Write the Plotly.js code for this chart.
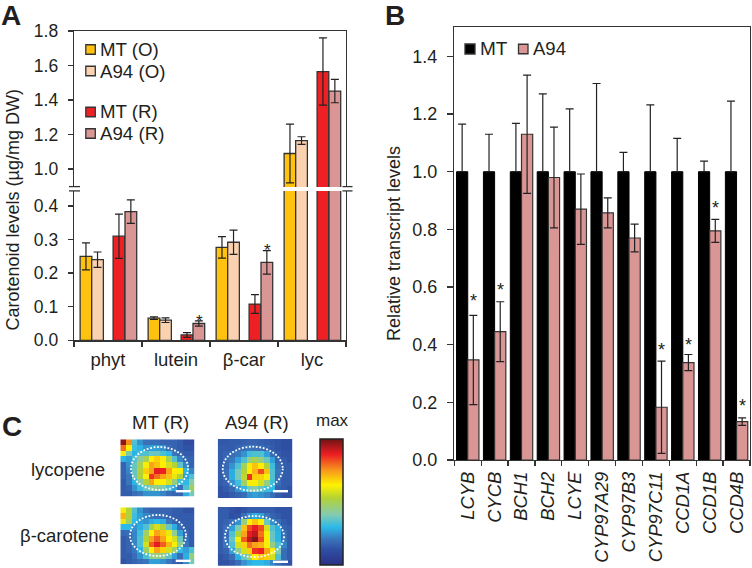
<!DOCTYPE html>
<html>
<head>
<meta charset="utf-8">
<script src="https://cdn.plot.ly/plotly-3.0.1.min.js"></script>
<style>html,body{margin:0;padding:0;background:#fff}</style>
</head>
<body>
<div id="chart" style="width:752px;height:568px"></div>
<script>
// Panel A data
const compounds = ['phyt', 'lutein', 'β-car', 'lyc'];
const mtO = [0.25, 0.066, 0.277, 1.09];
const mtOErr = [0.04, 0.004, 0.032, 0.17];
const a94O = [0.24, 0.06, 0.292, 1.165];
const a94OErr = [0.023, 0.007, 0.036, 0.022];
const mtR = [0.31, 0.016, 0.108, 1.565];
const mtRErr = [0.066, 0.007, 0.028, 0.195];
const a94R = [0.383, 0.05, 0.232, 1.452];
const a94RErr = [0.035, 0.008, 0.035, 0.068];
const starsA = [['lutein', 0.0575], ['β-car', 0.266]];

// Panel B data
const genes = ['LCYB', 'CYCB', 'BCH1', 'BCH2', 'LCYE', 'CYP97A29', 'CYP97B3', 'CYP97C11', 'CCD1A', 'CCD1B', 'CCD4B'];
const mtRel = [1, 1, 1, 1, 1, 1, 1, 1, 1, 1, 1];
const mtRelErr = [0.165, 0.13, 0.168, 0.27, 0.218, 0.306, 0.067, 0.232, 0.116, 0.037, 0.245];
const a94Rel = [0.347, 0.445, 1.13, 0.98, 0.87, 0.857, 0.77, 0.183, 0.338, 0.795, 0.133];
const a94RelErr = [0.155, 0.104, 0.205, 0.175, 0.122, 0.052, 0.048, 0.16, 0.028, 0.04, 0.013];
const starGenes = ['LCYB', 'CYCB', 'CYP97C11', 'CCD1A', 'CCD1B', 'CCD4B'];
const starLevels = [0.563, 0.6, 0.392, 0.409, 0.885, 0.198];

// Panel C data
const mtLycopene = [
 [.97,.75,.3,.2,.15,.14,.14,.12,.12,.12,.1,.06,.06],
 [.78,.62,.28,.25,.2,.22,.22,.2,.14,.12,.1,.08,.08],
 [.6,.35,.25,.3,.3,.33,.33,.3,.26,.16,.12,.1,.1],
 [.25,.22,.3,.4,.47,.62,.66,.6,.47,.3,.18,.12,.12],
 [.12,.2,.33,.47,.6,.72,.68,.62,.55,.5,.32,.18,.12],
 [.12,.18,.33,.5,.66,.72,.88,.87,.72,.62,.6,.25,.18],
 [.12,.16,.33,.5,.62,.85,.78,.72,.68,.58,.5,.22,.3],
 [.1,.16,.25,.38,.5,.72,.62,.62,.55,.42,.28,.26,.38],
 [.1,.12,.2,.28,.33,.38,.4,.36,.3,.22,.14,.3,.45],
 [.1,.1,.14,.16,.2,.2,.2,.18,.14,.12,.12,.24,.35]];
const a94Lycopene = [
 [.09,.09,.1,.1,.11,.12,.12,.11,.1,.09,.08,.07,.07],
 [.1,.1,.1,.12,.14,.16,.15,.14,.12,.1,.08,.07,.07],
 [.1,.12,.14,.16,.2,.28,.3,.3,.22,.14,.1,.08,.08],
 [.1,.13,.16,.22,.3,.42,.47,.42,.33,.22,.12,.1,.08],
 [.1,.13,.2,.3,.46,.6,.68,.62,.5,.28,.14,.1,.1],
 [.1,.14,.24,.35,.5,.62,.7,.82,.68,.3,.16,.1,.1],
 [.1,.14,.24,.35,.52,.85,.66,.66,.6,.3,.15,.1,.1],
 [.1,.12,.2,.28,.45,.6,.6,.55,.42,.28,.14,.1,.1],
 [.08,.1,.13,.2,.26,.35,.38,.33,.28,.26,.12,.1,.08],
 [.08,.08,.1,.12,.14,.2,.22,.2,.18,.14,.1,.08,.08]];
const mtCarotene = [
 [.6,.5,.3,.2,.14,.12,.12,.12,.12,.1,.1,.08,.08],
 [.7,.5,.28,.22,.18,.16,.14,.14,.12,.1,.1,.1,.1],
 [.58,.45,.26,.22,.2,.24,.26,.24,.16,.12,.1,.1,.1],
 [.26,.26,.2,.24,.3,.47,.55,.5,.33,.24,.14,.1,.1],
 [.13,.14,.18,.28,.45,.62,.72,.68,.58,.4,.22,.12,.1],
 [.1,.12,.18,.3,.5,.72,.8,.72,.62,.55,.33,.14,.1],
 [.1,.12,.18,.3,.55,.8,.88,.8,.7,.6,.4,.16,.1],
 [.1,.12,.16,.25,.45,.62,.72,.66,.55,.45,.26,.22,.3],
 [.1,.1,.14,.2,.3,.4,.42,.4,.32,.22,.14,.24,.42],
 [.08,.1,.12,.14,.16,.22,.22,.2,.16,.12,.1,.2,.35]];
const a94Carotene = [
 [.1,.1,.08,.06,.08,.1,.1,.1,.1,.1,.08,.08,.08],
 [.1,.1,.07,.08,.14,.2,.24,.22,.16,.12,.1,.08,.08],
 [.1,.12,.14,.2,.42,.62,.68,.62,.33,.2,.14,.1,.08],
 [.1,.14,.22,.36,.68,.82,.88,.82,.55,.3,.24,.12,.1],
 [.1,.14,.3,.5,.72,.88,.92,.78,.6,.33,.25,.14,.1],
 [.1,.16,.33,.6,.8,.92,.98,.82,.62,.33,.25,.15,.1],
 [.1,.16,.3,.55,.66,.78,.72,.7,.6,.42,.3,.18,.1],
 [.1,.12,.22,.4,.55,.66,.85,.87,.72,.62,.36,.14,.1],
 [.08,.1,.14,.24,.33,.45,.62,.68,.66,.55,.3,.14,.1],
 [.08,.08,.1,.14,.2,.24,.26,.26,.24,.18,.14,.1,.08]];

// Styling
const W = 752, H = 568;
const FONT = 'Liberation Sans, Arial, sans-serif';
const INK = '#231f20', LINE = '#333333', EDGE = '#333333';
const cOrange = '#FFC20E', cPeach = '#FBD2B0', cRed = '#EE2024', cPink = '#DA9694';
const hx = p => p / W, vy = p => 1 - p / H;
const domX = (a, b) => [a / W, b / W], domY = (top, bot) => [1 - bot / H, 1 - top / H];

// Panel A bars: one trace on each side of the axis break
const seriesA = [
  {name: 'MT (O)', y: mtO, e: mtOErr, c: cOrange, off: -0.41},
  {name: 'A94 (O)', y: a94O, e: a94OErr, c: cPeach, off: -0.24},
  {name: 'MT (R)', y: mtR, e: mtRErr, c: cRed, off: 0.075},
  {name: 'A94 (R)', y: a94R, e: a94RErr, c: cPink, off: 0.25}
];
const traces = [];
[['x', 'y'], ['x2', 'y2']].forEach(([xa, ya]) => seriesA.forEach(s => traces.push({
  type: 'bar', name: s.name, x: compounds, y: s.y, xaxis: xa, yaxis: ya, showlegend: false,
  offset: s.off, width: 0.172,
  marker: {color: s.c, line: {color: EDGE, width: 1.3}},
  error_y: {type: 'data', array: s.e, color: '#222', thickness: 1.2, width: 4}
})));

// Panel B bars
const geneLabels = genes.map(g => '<i>' + g + '</i>');
traces.push({type: 'bar', name: 'MT', x: geneLabels, y: mtRel, xaxis: 'x3', yaxis: 'y3', showlegend: false,
  offset: -0.4165, width: 0.4165,
  marker: {color: '#000', line: {color: '#000', width: 1}},
  error_y: {type: 'data', symmetric: false, array: mtRelErr, arrayminus: mtRel.map(() => 0), color: '#222', thickness: 1.2, width: 4}});
traces.push({type: 'bar', name: 'A94', x: geneLabels, y: a94Rel, xaxis: 'x3', yaxis: 'y3', showlegend: false,
  offset: 0, width: 0.4165,
  marker: {color: cPink, line: {color: EDGE, width: 1.2}},
  error_y: {type: 'data', array: a94RelErr, color: '#222', thickness: 1.2, width: 4}});

// Panel C maps
const maps = [
  {z: mtLycopene, box: [120.3, 194.7, 439.3, 496.7], ring: [131, 188, 447, 490], bar: [175.7, 190.7, 490, 492.4]},
  {z: a94Lycopene, box: [217.7, 292.3, 439, 498], ring: [222.7, 282.7, 446.7, 490.7], bar: [273, 288, 490, 492.4]},
  {z: mtCarotene, box: [120.3, 194.7, 507.3, 564.3], ring: [130, 186, 515, 556], bar: [175.7, 190.7, 559.6, 562]},
  {z: a94Carotene, box: [217.7, 292.3, 507, 565.7], ring: [225, 284, 516, 557], bar: [273, 288, 560.6, 563]}
];
const layout = {
  width: W, height: H, margin: {l: 0, r: 0, t: 0, b: 0}, paper_bgcolor: '#fff', plot_bgcolor: 'rgba(0,0,0,0)',
  font: {family: FONT, color: INK, size: 17.5}, barmode: 'overlay', showlegend: false,
  xaxis: {type: 'category', domain: domX(74, 346), anchor: 'y', range: [-0.5, 3.5], tickson: 'boundaries', dtick: 1,
    ticks: 'outside', ticklen: 5, tickwidth: 1.3, tickcolor: LINE, showline: true, linecolor: LINE, linewidth: 1.3,
    showgrid: false, zeroline: false, tickfont: {size: 18.5}, ticklabelstandoff: 2},
  yaxis: {domain: domY(191, 340.3), anchor: 'x', range: [0, 0.4447], tickvals: [0, 0.1, 0.2, 0.3, 0.4], tickformat: '.1f',
    ticks: 'outside', ticklen: 5, tickwidth: 1.3, tickcolor: LINE, showline: true, mirror: true, linecolor: LINE, linewidth: 1.3,
    showgrid: false, zeroline: false, tickfont: {size: 17.5}, ticklabelstandoff: 6},
  xaxis2: {type: 'category', domain: domX(74, 346), anchor: 'y2', side: 'top', range: [-0.5, 3.5], showticklabels: false, ticks: '',
    showline: true, linecolor: LINE, linewidth: 1.3, showgrid: false, zeroline: false},
  yaxis2: {domain: domY(31, 187), anchor: 'x2', range: [0.8957, 1.8], tickvals: [1, 1.2, 1.4, 1.6, 1.8], tickformat: '.1f',
    ticks: 'outside', ticklen: 5, tickwidth: 1.3, tickcolor: LINE, showline: true, mirror: true, linecolor: LINE, linewidth: 1.3,
    showgrid: false, zeroline: false, tickfont: {size: 17.5}, ticklabelstandoff: 6},
  xaxis3: {type: 'category', domain: domX(454.3, 750), anchor: 'y3', tickson: 'boundaries', dtick: 1, tickangle: -90,
    ticks: 'outside', ticklen: 5, tickwidth: 1.3, tickcolor: LINE, showline: true, mirror: true, linecolor: LINE, linewidth: 1.3,
    showgrid: false, zeroline: false, tickfont: {size: 18.4}, ticklabelstandoff: 3},
  yaxis3: {domain: domY(27, 460), anchor: 'x3', range: [0, 1.502], tickvals: [0, 0.2, 0.4, 0.6, 0.8, 1, 1.2, 1.4], tickformat: '.1f',
    ticks: 'outside', ticklen: 6, tickwidth: 1.3, tickcolor: LINE, showline: true, mirror: true, linecolor: LINE, linewidth: 1.3,
    showgrid: false, zeroline: false, tickfont: {size: 18}, ticklabelstandoff: 6,
    title: {text: 'Relative transcript levels', font: {size: 18}, standoff: 7}},
  coloraxis: {cmin: -0.06, cmax: 1, showscale: true,
    colorscale: [[0, '#2a3186'], [0.12, '#2f4ea3'], [0.2, '#3a72ba'], [0.3, '#2cb9e8'], [0.4, '#84cbb0'], [0.53, '#b3d235'],
      [0.635, '#fff200'], [0.755, '#f7941d'], [0.88, '#ed1c24'], [1, '#6e1414']],
    colorbar: {x: hx(320), xanchor: 'left', y: vy(439), yanchor: 'top', lenmode: 'pixels', len: 126, thicknessmode: 'pixels', thickness: 23,
      xpad: 0, ypad: 0, outlinecolor: '#222', outlinewidth: 1.5, borderwidth: 0, ticks: '', showticklabels: false}},
  shapes: [], annotations: []
};

maps.forEach((m, i) => {
  const n = i + 4, xk = 'x' + n, yk = 'y' + n;
  traces.push({type: 'heatmap', z: m.z, xaxis: xk, yaxis: yk, coloraxis: 'coloraxis', zsmooth: false, hoverongaps: false});
  layout['xaxis' + n] = {domain: domX(m.box[0], m.box[1]), anchor: yk, range: [-0.5, 12.5], visible: false, fixedrange: true};
  layout['yaxis' + n] = {domain: domY(m.box[2], m.box[3]), anchor: xk, range: [9.5, -0.5], visible: false, fixedrange: true};
  layout.shapes.push({type: 'circle', xref: 'paper', yref: 'paper', x0: hx(m.ring[0]), x1: hx(m.ring[1]), y0: vy(m.ring[2]), y1: vy(m.ring[3]),
    line: {color: '#fff', width: 1.8, dash: '1.8px,1.7px'}, layer: 'above'});
  layout.shapes.push({type: 'rect', xref: 'paper', yref: 'paper', x0: hx(m.bar[0]), x1: hx(m.bar[1]), y0: vy(m.bar[2]), y1: vy(m.bar[3]),
    fillcolor: '#fff', line: {width: 0}, layer: 'above'});
});

// Axis break marks
[[69, 80], [342.5, 352.5]].forEach(([a, b]) => [186.6, 190.9].forEach(p => layout.shapes.push({
  type: 'line', xref: 'paper', yref: 'paper', x0: hx(a), x1: hx(b), y0: vy(p), y1: vy(p), line: {color: LINE, width: 1.3}, layer: 'above'})));

// Hand-placed keys
function swatch(x, y, color, size) {
  layout.shapes.push({type: 'rect', xref: 'paper', yref: 'paper', x0: hx(x), x1: hx(x + size), y0: vy(y - size / 2), y1: vy(y + size / 2),
    fillcolor: color, line: {color: EDGE, width: 1.3}, layer: 'above'});
}
function label(text, x, y, size, extra) {
  layout.annotations.push(Object.assign({text, xref: 'paper', yref: 'paper', x: hx(x), y: vy(y), showarrow: false, xanchor: 'left', yanchor: 'middle',
    font: {size, color: INK, family: FONT}, borderpad: 0, borderwidth: 0}, extra || {}));
}
seriesA.forEach((s, i) => {
  const y = [49.5, 71, 112, 133.5][i];
  swatch(85.8, y, s.c, 9.5);
  label(s.name, 99.5, y, 18.7);
});
swatch(465, 49, '#000', 10); label('MT', 480, 49, 19);
swatch(518.5, 49, cPink, 9.5); label('A94', 532.5, 49, 18.5);

// Panel letters and free labels
label('<b>A</b>', 1, 15, 28); label('<b>B</b>', 385, 15, 28); label('<b>C</b>', 2, 426, 28);
label('Carotenoid levels (µg/mg DW)', 12.5, 210, 18, {textangle: -90, xanchor: 'center'});
label('lycopene', 68, 469, 18.5, {xanchor: 'center'});
label('β-carotene', 64, 535, 18.5, {xanchor: 'center'});
label('MT (R)', 160, 422, 18.5, {xanchor: 'center'});
label('A94 (R)', 257, 422, 18.5, {xanchor: 'center'});
label('max', 332, 420, 17, {xanchor: 'center'});

// Significance stars
starsA.forEach(([cat, v]) => layout.annotations.push({text: '*', xref: 'x', yref: 'y', x: cat, y: v, xshift: 23, showarrow: false,
  font: {size: 17, color: INK, family: FONT}}));
starGenes.forEach((g, i) => layout.annotations.push({text: '*', xref: 'x3', yref: 'y3', x: '<i>' + g + '</i>', y: starLevels[i], xshift: 5.6, yshift: -3, showarrow: false,
  font: {size: 18, color: INK, family: FONT}}));

Plotly.newPlot('chart', traces, layout, {displayModeBar: false, staticPlot: true});
</script>
</body>
</html>
